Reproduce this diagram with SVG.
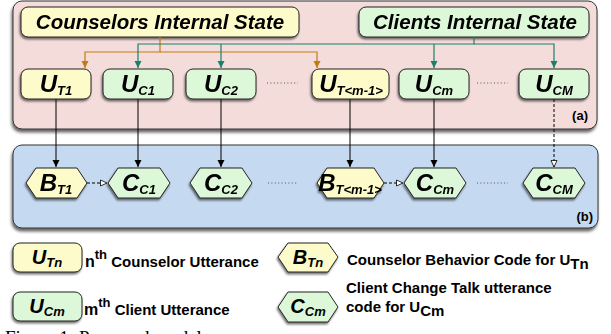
<svg xmlns="http://www.w3.org/2000/svg" width="611" height="334" viewBox="0 0 611 334">
<defs>
<filter id="sh" x="-20%" y="-20%" width="140%" height="150%">
<feDropShadow dx="-1" dy="2" stdDeviation="1.3" flood-color="#000" flood-opacity="0.55"/>
</filter>
<filter id="shp" x="-5%" y="-10%" width="110%" height="125%">
<feDropShadow dx="-1" dy="3" stdDeviation="1.8" flood-color="#000" flood-opacity="0.6"/>
</filter>
<marker id="aO" markerWidth="8" markerHeight="8" refX="7" refY="4" orient="auto" markerUnits="userSpaceOnUse">
<path d="M0,0.5 L7,4 L0,7.5 Z" fill="#c47a12"/>
</marker>
<marker id="aG" markerWidth="8" markerHeight="8" refX="7" refY="4" orient="auto" markerUnits="userSpaceOnUse">
<path d="M0,0.5 L7,4 L0,7.5 Z" fill="#17826a"/>
</marker>
<marker id="aK" markerWidth="8" markerHeight="8" refX="7" refY="4" orient="auto" markerUnits="userSpaceOnUse">
<path d="M0,0.5 L7,4 L0,7.5 Z" fill="#000"/>
</marker>
<marker id="aW" markerWidth="8" markerHeight="8" refX="7" refY="4" orient="auto" markerUnits="userSpaceOnUse">
<path d="M0.5,1 L7,4 L0.5,7 Z" fill="#fff" stroke="#000" stroke-width="0.8"/>
</marker>
</defs>
<style>
text{font-family:"Liberation Sans",Arial,sans-serif;font-weight:bold;fill:#000}
.bi{font-style:italic}
.ttl{font-size:20.5px;font-style:italic}
.u{font-size:24px;font-style:italic}
.s{font-size:13px;font-style:italic}
.y{fill:#fdfbc9;stroke:#222;stroke-width:1}
.g{fill:#ddf8d9;stroke:#222;stroke-width:1}
.nd{filter:url(#sh)}
.dots{stroke:#555;stroke-width:1;stroke-dasharray:1 2.4}
.lg{font-size:15px}
.lab{font-size:13px;font-family:"Liberation Sans Narrow","Liberation Sans",sans-serif}
</style>

<!-- panels -->
<g id="panelA">
<rect x="13" y="1" width="584" height="128" rx="9" fill="#f4dcdb" stroke="#333" stroke-width="1" filter="url(#shp)"/>
<text x="588" y="120" class="lab" text-anchor="end">(a)</text>
</g>
<g id="panelB">
<rect x="13" y="145" width="585" height="83" rx="9" fill="#c5d9f0" stroke="#333" stroke-width="1" filter="url(#shp)"/>
<text x="593" y="221" class="lab" text-anchor="end">(b)</text>
</g>

<!-- internal states -->
<g id="counselorsState" class="nd">
<rect x="21" y="7" width="278" height="30" rx="7" class="y"/>
<text x="160" y="29" class="ttl" text-anchor="middle">Counselors Internal State</text>
</g>
<g id="clientsState" class="nd">
<rect x="359" y="7" width="230" height="30" rx="7" class="g"/>
<text x="475" y="29" class="ttl" text-anchor="middle">Clients Internal State</text>
</g>

<!-- connectors -->
<g id="connectors" fill="none">
<polyline points="160,37 160,52 85,52 85,68" stroke="#c47a12" stroke-width="1.2" marker-end="url(#aO)"/>
<polyline points="160,52 317,52 317,68" stroke="#c47a12" stroke-width="1.2" marker-end="url(#aO)"/>
<polyline points="474,37 474,44 138,44 138,68" stroke="#17826a" stroke-width="1.2" marker-end="url(#aG)"/>
<line x1="221" y1="44" x2="221" y2="68" stroke="#17826a" stroke-width="1.2" marker-end="url(#aG)"/>
<line x1="434" y1="44" x2="434" y2="68" stroke="#17826a" stroke-width="1.2" marker-end="url(#aG)"/>
<polyline points="474,44 554,44 554,68" stroke="#17826a" stroke-width="1.2" marker-end="url(#aG)"/>
<line x1="56" y1="99" x2="56" y2="167" stroke="#000" stroke-width="1" marker-end="url(#aK)"/>
<line x1="138" y1="99" x2="138" y2="167" stroke="#000" stroke-width="1" marker-end="url(#aK)"/>
<line x1="221" y1="99" x2="221" y2="167" stroke="#000" stroke-width="1" marker-end="url(#aK)"/>
<line x1="350" y1="99" x2="350" y2="167" stroke="#000" stroke-width="1" marker-end="url(#aK)"/>
<line x1="434" y1="99" x2="434" y2="167" stroke="#000" stroke-width="1" marker-end="url(#aK)"/>
<line x1="554" y1="99" x2="554" y2="167" stroke="#000" stroke-width="1" stroke-dasharray="3 2" marker-end="url(#aW)"/>
<line x1="87" y1="183" x2="107" y2="183" stroke="#000" stroke-width="1" stroke-dasharray="3 2" marker-end="url(#aW)"/>
<line x1="384" y1="183" x2="403" y2="183" stroke="#000" stroke-width="1" stroke-dasharray="3 2" marker-end="url(#aW)"/>
<line x1="267" y1="83" x2="298" y2="83" class="dots"/>
<line x1="477" y1="83" x2="508" y2="83" class="dots"/>
<line x1="268" y1="183" x2="298" y2="183" class="dots"/>
<line x1="477" y1="183" x2="508" y2="183" class="dots"/>
</g>

<!-- utterance nodes -->
<g id="UT1" class="nd"><rect x="21" y="69" width="70" height="30" rx="7" class="y"/>
<text x="56" y="92" text-anchor="middle"><tspan class="u">U</tspan><tspan class="s" dy="3">T1</tspan></text></g>
<g id="UC1" class="nd"><rect x="103" y="69" width="70" height="30" rx="7" class="g"/>
<text x="138" y="92" text-anchor="middle"><tspan class="u">U</tspan><tspan class="s" dy="3">C1</tspan></text></g>
<g id="UC2" class="nd"><rect x="186" y="69" width="70" height="30" rx="7" class="g"/>
<text x="221" y="92" text-anchor="middle"><tspan class="u">U</tspan><tspan class="s" dy="3">C2</tspan></text></g>
<g id="UTm1" class="nd"><rect x="312" y="69" width="77" height="30" rx="7" class="y"/>
<text x="351" y="92" text-anchor="middle"><tspan class="u">U</tspan><tspan class="s" dy="3">T&lt;m-1&gt;</tspan></text></g>
<g id="UCm" class="nd"><rect x="399" y="69" width="70" height="30" rx="7" class="g"/>
<text x="434" y="92" text-anchor="middle"><tspan class="u">U</tspan><tspan class="s" dy="3">Cm</tspan></text></g>
<g id="UCM" class="nd"><rect x="519" y="69" width="70" height="30" rx="7" class="g"/>
<text x="554" y="92" text-anchor="middle"><tspan class="u">U</tspan><tspan class="s" dy="3">CM</tspan></text></g>

<!-- code nodes -->
<g id="BT1" class="nd"><path d="M26,183 L36,168 L77,168 L87,183 L77,198 L36,198 Z" class="y" stroke-linejoin="round"/>
<text x="56" y="191" text-anchor="middle"><tspan class="u">B</tspan><tspan class="s" dy="3">T1</tspan></text></g>
<g id="CC1" class="nd"><path d="M108,183 L118,168 L160,168 L170,183 L160,198 L118,198 Z" class="g" stroke-linejoin="round"/>
<text x="139" y="191" text-anchor="middle"><tspan class="u">C</tspan><tspan class="s" dy="3">C1</tspan></text></g>
<g id="CC2" class="nd"><path d="M190,183 L200,168 L242,168 L252,183 L242,198 L200,198 Z" class="g" stroke-linejoin="round"/>
<text x="221" y="191" text-anchor="middle"><tspan class="u">C</tspan><tspan class="s" dy="3">C2</tspan></text></g>
<g id="BTm1" class="nd"><path d="M317,183 L327,168 L374,168 L384,183 L374,198 L327,198 Z" class="y" stroke-linejoin="round"/>
<text x="350" y="191" text-anchor="middle"><tspan class="u" font-size="22">B</tspan><tspan class="s" dy="3" font-size="11.5">T&lt;m-1&gt;</tspan></text></g>
<g id="CCm" class="nd"><path d="M404,183 L414,168 L456,168 L466,183 L456,198 L414,198 Z" class="g" stroke-linejoin="round"/>
<text x="435" y="191" text-anchor="middle"><tspan class="u">C</tspan><tspan class="s" dy="3">Cm</tspan></text></g>
<g id="CCM" class="nd"><path d="M523,183 L533,168 L575,168 L585,183 L575,198 L533,198 Z" class="g" stroke-linejoin="round"/>
<text x="554" y="191" text-anchor="middle"><tspan class="u">C</tspan><tspan class="s" dy="3">CM</tspan></text></g>

<!-- legend -->
<g id="legUTn">
<rect x="13" y="243" width="69" height="29" rx="7" class="y nd"/>
<text x="47" y="264" text-anchor="middle"><tspan class="bi" font-size="20">U</tspan><tspan class="s" dy="3">Tn</tspan></text>
<text x="85" y="267" class="lg"><tspan font-size="16">n</tspan><tspan font-size="13" dy="-8">th</tspan><tspan dy="8"> Counselor Utterance</tspan></text>
</g>
<g id="legUCm">
<rect x="13" y="292" width="69" height="29" rx="7" class="g nd"/>
<text x="47" y="313" text-anchor="middle"><tspan class="bi" font-size="20">U</tspan><tspan class="s" dy="3">Cm</tspan></text>
<text x="84" y="315" class="lg"><tspan font-size="16">m</tspan><tspan font-size="13" dy="-8">th</tspan><tspan dy="8"> Client Utterance</tspan></text>
</g>
<g id="legBTn">
<path d="M278,257 L288,243 L328,243 L338,257 L328,272 L288,272 Z" class="y nd" stroke-linejoin="round"/>
<text x="308" y="264" text-anchor="middle"><tspan class="bi" font-size="20">B</tspan><tspan class="s" dy="3">Tn</tspan></text>
<text x="347" y="265" class="lg">Counselor Behavior Code for U<tspan dy="4" font-size="15">Tn</tspan></text>
</g>
<g id="legCCm">
<path d="M278,307 L288,292 L328,292 L338,307 L328,322 L288,322 Z" class="g nd" stroke-linejoin="round"/>
<text x="308" y="313" text-anchor="middle"><tspan class="bi" font-size="20">C</tspan><tspan class="s" dy="3">Cm</tspan></text>
<text x="346" y="293" class="lg">Client Change Talk utterance</text>
<text x="346" y="312" class="lg">code for U<tspan dy="4" font-size="15">Cm</tspan></text>
</g>
<text x="5" y="344" style="font-family:'Liberation Serif',serif;font-weight:normal;font-size:19px">Figure 1: Proposed model</text>
</svg>
